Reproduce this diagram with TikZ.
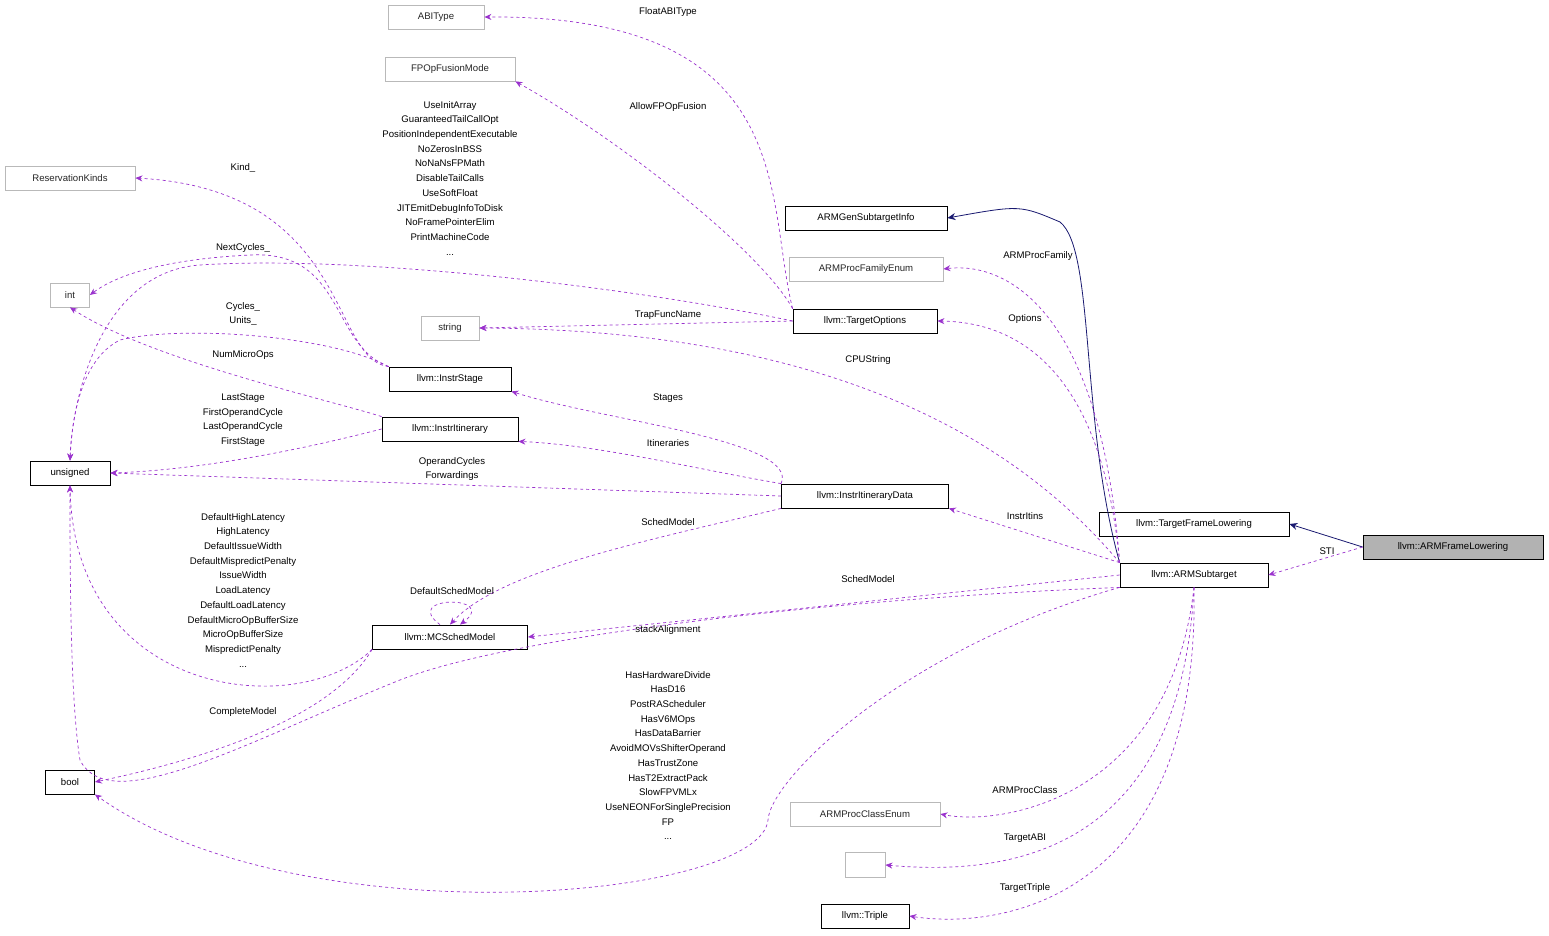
\documentclass[tikz,border=0pt]{standalone}
\usepackage{fontspec}
\setmainfont{Liberation Sans}
\usetikzlibrary{arrows.meta}
\definecolor{dep}{HTML}{9A32CD}
\definecolor{inh}{HTML}{191970}
\begin{document}
\begin{tikzpicture}[x=1pt,y=-1pt,
  font=\fontsize{9.6}{14.7}\selectfont,
  box/.style={draw=black,fill=white,inner sep=0pt,minimum height=24pt,line width=0.8pt},
  gbox/.style={draw=gray!55,fill=white,inner sep=0pt,minimum height=24pt,text=black!85,line width=0.8pt},
  dep/.style={draw=dep,dashed,line width=0.7pt,-{Stealth[length=7pt,width=6pt,fill=dep]}},
  inh/.style={draw=inh,line width=0.8pt,-{Stealth[length=8pt,width=7pt,fill=inh]}},
  lab/.style={align=center,inner sep=0pt}]
\useasboundingbox (0,0) rectangle (1549,936);
% nodes
\node[gbox,minimum width=96pt] (abi) at (436,17) {ABIType};
\node[gbox,minimum width=130pt] (fpo) at (450,69) {FPOpFusionMode};
\node[gbox,minimum width=130pt] (rk) at (70,178) {ReservationKinds};
\node[gbox,minimum width=39pt] (int) at (70,295) {int};
\node[gbox,minimum width=58pt] (str) at (450,328) {string};
\node[box,minimum width=80pt] (uns) at (70,473) {unsigned};
\node[box,minimum width=49pt] (bool) at (70,782) {bool};
\node[box,minimum width=162pt] (gen) at (866,218) {ARMGenSubtargetInfo};
\node[gbox,minimum width=154pt] (fam) at (866,269) {ARMProcFamilyEnum};
\node[box,minimum width=144pt] (to) at (865,321) {llvm::TargetOptions};
\node[box,minimum width=122pt] (is) at (450,379) {llvm::InstrStage};
\node[box,minimum width=136pt] (ii) at (450,429) {llvm::InstrItinerary};
\node[box,minimum width=167pt] (iid) at (865,496) {llvm::InstrItineraryData};
\node[box,minimum width=155pt] (mcs) at (450,637) {llvm::MCSchedModel};
\node[box,minimum width=190pt] (tfl) at (1194,524) {llvm::TargetFrameLowering};
\node[draw=black,fill=black!30,inner sep=0pt,minimum height=24pt,minimum width=180pt,line width=0.8pt] (afl) at (1453,547) {llvm::ARMFrameLowering};
\node[box,minimum width=148pt] (as) at (1194,575) {llvm::ARMSubtarget};
\node[gbox,minimum width=150pt] (pce) at (865,814) {ARMProcClassEnum};
\node[gbox,minimum width=40pt,minimum height=25pt] (emp) at (865,865) {};
\node[box,minimum width=88pt] (tri) at (865,916) {llvm::Triple};
% inheritance
\draw[inh] (afl.west) -- (tfl.east);
\draw[inh] (as.north west) .. controls (1080,420) and (1095,250) .. (1060,222) .. controls (1020,205) .. (gen.east);
% dependencies
\draw[dep] (to.north west) .. controls (765,200) and (800,15) .. (abi.east);
\draw[dep] (to.north west) .. controls (760,250) and (620,140) .. (fpo.south east);
\draw[dep] (to.west) .. controls (620,285) and (350,255) .. (200,265) .. controls (100,272) and (72,400) .. (uns.north);
\draw[dep] (to.west) -- (str.east);
\draw[dep] (is.north west) .. controls (330,360) and (350,190) .. (rk.east);
\draw[dep] (is.north west) .. controls (330,345) and (345,250) .. (250,255) .. controls (150,260) and (110,280) .. (int.east);
\draw[dep] (is.north west) .. controls (330,335) and (180,325) .. (120,340) .. controls (80,360) and (72,420) .. (uns.north);
\draw[dep] (ii.north west) .. controls (330,400) and (150,360) .. (int.south);
\draw[dep] (ii.west) .. controls (300,450) and (200,470) .. (uns.east);
\draw[dep] (iid.west) -- (uns.east);
\draw[dep] (iid.north west) .. controls (800,440) and (600,420) .. (is.south east);
\draw[dep] (iid.north west) .. controls (700,470) and (600,445) .. (ii.south east);
\draw[dep] (iid.south west) .. controls (650,540) and (500,570) .. (mcs.north);
\draw[dep] ([xshift=-10pt]mcs.north) .. controls (400,595) and (500,595) .. ([xshift=10pt]mcs.north);
\draw[dep] (mcs.south west) .. controls (300,720) and (75,700) .. (uns.south);
\draw[dep] (mcs.south west) .. controls (330,720) and (200,760) .. (bool.east);
\draw[dep] (as.west) -- (mcs.east);
\draw[dep] (as.south west) .. controls (800,600) and (500,640) .. (400,680) .. controls (250,740) and (110,820) .. (80,760) .. controls (70,700) and (70,560) .. (uns.south);
\draw[dep] (as.south west) .. controls (900,650) and (770,780) .. (768,820) .. controls (760,900) and (300,940) .. (bool.south east);
\draw[dep] (as.north west) .. controls (1000,420) and (800,330) .. (str.east);
\draw[dep] (as.north west) .. controls (1100,300) and (1000,262) .. (fam.east);
\draw[dep] (as.north west) .. controls (1100,350) and (1000,322) .. (to.east);
\draw[dep] (as.north west) -- (iid.south east);
\draw[dep] (as.south) .. controls (1170,800) and (1000,826) .. (pce.east);
\draw[dep] (as.south) .. controls (1180,860) and (1000,875) .. (emp.east);
\draw[dep] (as.south) .. controls (1200,900) and (1000,930) .. (tri.east);
\draw[dep] (afl.west) -- (as.east);
% labels
\node[lab] at (668,12) {FloatABIType};
\node[lab] at (668,107) {AllowFPOpFusion};
\node[lab,anchor=north] at (450,101) {UseInitArray\\GuaranteedTailCallOpt\\PositionIndependentExecutable\\NoZerosInBSS\\NoNaNsFPMath\\DisableTailCalls\\UseSoftFloat\\JITEmitDebugInfoToDisk\\NoFramePointerElim\\PrintMachineCode\\...};
\node[lab] at (243,168) {Kind\_};
\node[lab] at (243,248) {NextCycles\_};
\node[lab] at (243,314) {Cycles\_\\Units\_};
\node[lab] at (243,355) {NumMicroOps};
\node[lab] at (243,420) {LastStage\\FirstOperandCycle\\LastOperandCycle\\FirstStage};
\node[lab] at (452,469) {OperandCycles\\Forwardings};
\node[lab] at (668,315) {TrapFuncName};
\node[lab] at (868,360) {CPUString};
\node[lab] at (668,398) {Stages};
\node[lab] at (668,443) {Itineraries};
\node[lab] at (668,522) {SchedModel};
\node[lab] at (452,591) {DefaultSchedModel};
\node[lab,anchor=north] at (243,513) {DefaultHighLatency\\HighLatency\\DefaultIssueWidth\\DefaultMispredictPenalty\\IssueWidth\\LoadLatency\\DefaultLoadLatency\\DefaultMicroOpBufferSize\\MicroOpBufferSize\\MispredictPenalty\\...};
\node[lab] at (243,712) {CompleteModel};
\node[lab] at (868,579) {SchedModel};
\node[lab] at (668,630) {stackAlignment};
\node[lab,anchor=north] at (668,671) {HasHardwareDivide\\HasD16\\PostRAScheduler\\HasV6MOps\\HasDataBarrier\\AvoidMOVsShifterOperand\\HasTrustZone\\HasT2ExtractPack\\SlowFPVMLx\\UseNEONForSinglePrecision\\FP\\...};
\node[lab] at (1038,256) {ARMProcFamily};
\node[lab] at (1025,319) {Options};
\node[lab] at (1025,516) {InstrItins};
\node[lab] at (1327,551) {STI};
\node[lab] at (1025,790) {ARMProcClass};
\node[lab] at (1025,838) {TargetABI};
\node[lab] at (1025,888) {TargetTriple};
\end{tikzpicture}
\end{document}
